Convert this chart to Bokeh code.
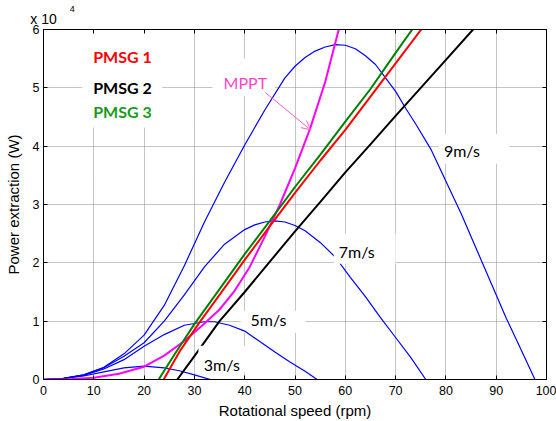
from bokeh.plotting import figure
from bokeh.models import (Range1d, LinearAxis, FixedTicker, Label, BoxAnnotation,
                          Arrow, OpenHead)
from bokeh.embed import file_html
from bokeh.resources import INLINE

# ---------------- data (power in units of 1e4 W) ----------------
rpm_3 = [0, 4, 8, 12, 16, 20, 24, 27, 30, 33.2]
p_3 = [0, 0.02, 0.06, 0.13, 0.2, 0.23, 0.2, 0.15, 0.08, 0]

rpm_5 = [0, 4, 8, 12, 16, 20, 24, 28, 32, 34, 37, 40, 43, 46, 49, 52, 54.4]
p_5 = [0, 0.02, 0.07, 0.18, 0.34, 0.57, 0.77, 0.93, 0.99, 0.99, 0.93, 0.83, 0.65, 0.47, 0.3, 0.14, 0]

rpm_7 = [0, 4, 8, 12, 16, 20, 24, 28, 32, 36, 40, 42, 44, 46, 48, 50, 52, 55, 58, 61, 64, 67, 70,
         73, 76]
p_7 = [0, 0.02, 0.08, 0.2, 0.4, 0.63, 1.0, 1.45, 1.93, 2.32, 2.57, 2.65, 2.7, 2.72, 2.7, 2.64,
       2.55, 2.35, 2.1, 1.75, 1.42, 1.06, 0.72, 0.38, 0]

rpm_9 = [0, 4, 8, 12, 16, 20, 24, 28, 32, 36, 40, 44, 48, 50, 52, 54, 56, 58, 60, 62, 64, 66,
         68, 70, 72, 74, 77, 80, 83, 86, 89, 92, 95, 97.7]
p_9 = [0, 0.02, 0.08, 0.21, 0.44, 0.76, 1.27, 1.95, 2.7, 3.38, 4.02, 4.62, 5.17, 5.37, 5.52,
       5.63, 5.7, 5.74, 5.73, 5.67, 5.55, 5.4, 5.17, 4.94, 4.65, 4.38, 3.95, 3.4, 2.85, 2.25,
       1.65, 1.05, 0.5, 0]

rpm_mppt = [0, 5, 10, 15, 20, 24, 28, 32, 35, 38, 41, 44, 47, 50, 53, 56, 58.7]
p_mppt = [0, 0.005, 0.03, 0.1, 0.22, 0.41, 0.66, 0.96, 1.2, 1.52, 1.93, 2.45, 3.0, 3.62, 4.3,
          5.1, 6.0]

rpm_pmsg1 = [23.9, 27.2, 31.2, 35, 40, 45, 50, 55, 60, 65, 70, 75.1]
p_pmsg1 = [0, 0.5, 1.0, 1.45, 2.05, 2.63, 3.2, 3.75, 4.28, 4.85, 5.42, 6.0]

rpm_pmsg2 = [26.6, 30, 35, 40, 45, 50, 55, 60, 65, 70, 75, 80, 85.4]
p_pmsg2 = [0, 0.4, 1.0, 1.5, 2.02, 2.54, 3.04, 3.55, 4.03, 4.52, 5.0, 5.48, 6.0]

rpm_pmsg3 = [22.9, 26.2, 30, 35, 40, 45, 50, 55, 60, 65, 70, 73.3]
p_pmsg3 = [0, 0.45, 0.95, 1.55, 2.15, 2.72, 3.3, 3.85, 4.42, 4.98, 5.6, 6.0]

x_ticks = [0, 10, 20, 30, 40, 50, 60, 70, 80, 90, 100]
y_ticks = [0, 1, 2, 3, 4, 5, 6]
exponent_base = "x 10"
exponent_power = "4"

# ---------------- figure ----------------
p = figure(width=556, height=421, output_backend="svg", toolbar_location=None,
           x_range=Range1d(0, 100), y_range=Range1d(0, 6),
           min_border_left=43, min_border_right=10, min_border_top=29, min_border_bottom=42)
p.background_fill_color = "white"
p.border_fill_color = "white"
p.outline_line_color = "black"

TICK_FONT = "Liberation Sans"
for ax in (p.xaxis[0], p.yaxis[0]):
    ax.major_tick_in = 4
    ax.major_tick_out = 0
    ax.minor_tick_line_color = None
    ax.axis_line_color = "black"
    ax.major_tick_line_color = "black"
    ax.major_label_text_font = TICK_FONT
    ax.major_label_text_font_size = "12.5px"
    ax.major_label_text_color = "black"
    ax.axis_label_text_font = TICK_FONT
    ax.axis_label_text_font_size = "15px"
    ax.axis_label_text_font_style = "normal"
    ax.axis_label_text_color = "black"

p.xaxis[0].ticker = FixedTicker(ticks=x_ticks)
p.yaxis[0].ticker = FixedTicker(ticks=y_ticks)
p.xaxis[0].axis_label = "Rotational speed (rpm)"
p.yaxis[0].axis_label = "Power extraction (W)"
p.xaxis[0].major_label_standoff = 6
p.xaxis[0].axis_label_standoff = 4
p.yaxis[0].major_label_standoff = 4
p.yaxis[0].axis_label_standoff = 8

# top axis: ticks + the "x 10" multiplier at x = 0
top_over = {t: "" for t in x_ticks}
top_over[0] = exponent_base
top = LinearAxis(ticker=FixedTicker(ticks=x_ticks), major_label_overrides=top_over)
top.major_label_text_align = "left"
top.major_label_text_font = TICK_FONT
top.major_label_text_font_size = "14px"
top.major_label_text_color = "black"
top.major_label_standoff = 3

# right axis: ticks only
right = LinearAxis(ticker=FixedTicker(ticks=y_ticks),
                   major_label_overrides={t: "" for t in y_ticks})
right.major_label_standoff = 0
for ax in (top, right):
    ax.major_tick_in = 4
    ax.major_tick_out = 0
    ax.minor_tick_line_color = None
    ax.axis_line_color = "black"
p.add_layout(top, "above")
p.add_layout(right, "right")

# superscript "4" of the multiplier
sup = LinearAxis(ticker=FixedTicker(ticks=[5.7]), major_label_overrides={5.7: exponent_power})
sup.major_label_text_align = "left"
sup.major_label_text_font = TICK_FONT
sup.major_label_text_font_size = "9px"
sup.major_label_text_color = "black"
sup.major_label_standoff = -4
sup.major_tick_in = 0
sup.major_tick_out = 0
sup.major_tick_line_color = None
sup.minor_tick_line_color = None
sup.axis_line_color = None
p.add_layout(sup, "above")

p.grid.grid_line_color = "#8a8a8a"
p.grid.grid_line_dash = "1 1"
p.grid.grid_line_width = 1
p.xgrid.ticker = FixedTicker(ticks=x_ticks)
p.ygrid.ticker = FixedTicker(ticks=y_ticks)

# white label backgrounds (mask grid), in data units
for (l, r, b, t, lev) in [(7.7, 23.6, 4.32, 5.93, "underlay"),
                          (33.6, 46.0, 4.86, 5.5, "underlay"),
                          (78.5, 92.6, 3.70, 4.21, "underlay"),
                          (57.7, 70.0, 1.985, 2.5, "annotation"),
                          (39.2, 52.1, 0.8, 1.18, "underlay"),
                          (30.8, 41.3, 0.12, 0.58, "annotation")]:
    p.add_layout(BoxAnnotation(left=l, right=r, bottom=b, top=t, fill_color="white",
                               fill_alpha=1.0, line_color=None, level=lev))

# curves
blue = "#0000FF"
for xs, ys in [(rpm_3, p_3), (rpm_5, p_5), (rpm_7, p_7), (rpm_9, p_9)]:
    p.line(xs, ys, line_color=blue, line_width=1.2)
p.line(rpm_mppt, p_mppt, line_color="#FF00FF", line_width=2)
p.line(rpm_pmsg2, p_pmsg2, line_color="black", line_width=2)
p.line(rpm_pmsg3, p_pmsg3, line_color="#008000", line_width=2)
p.line(rpm_pmsg1, p_pmsg1, line_color="#FF0000", line_width=2)

# arrow MPPT
p.add_layout(Arrow(x_start=44.1, y_start=4.92, x_end=53.1, y_end=4.28,
                   line_color="#FF5CCD", line_width=1,
                   end=OpenHead(size=9, line_color="#FF5CCD", line_width=1)))

LBL = "Lato"
def lab(x, y, text, color, bold=False, size="16px"):
    p.add_layout(Label(x=x, y=y, text=text, text_color=color, text_font=LBL,
                       text_font_size=size, text_font_style="bold" if bold else "normal",
                       text_align="left", text_baseline="middle"))

lab(9.88, 5.535, "PMSG 1", "#FF0000", True)
lab(9.88, 5.0, "PMSG 2", "black", True)
lab(9.88, 4.596, "PMSG 3", "#1A9A1A", True)
lab(35.8, 5.094, "MPPT", "#FF44CC")
lab(79.6, 3.923, "9m/s", "black")
lab(58.7, 2.196, "7m/s", "black")
lab(41.15, 1.036, "5m/s", "black")
lab(31.87, 0.264, "3m/s", "black")

open("out.html", "w").write(file_html(p, INLINE))
